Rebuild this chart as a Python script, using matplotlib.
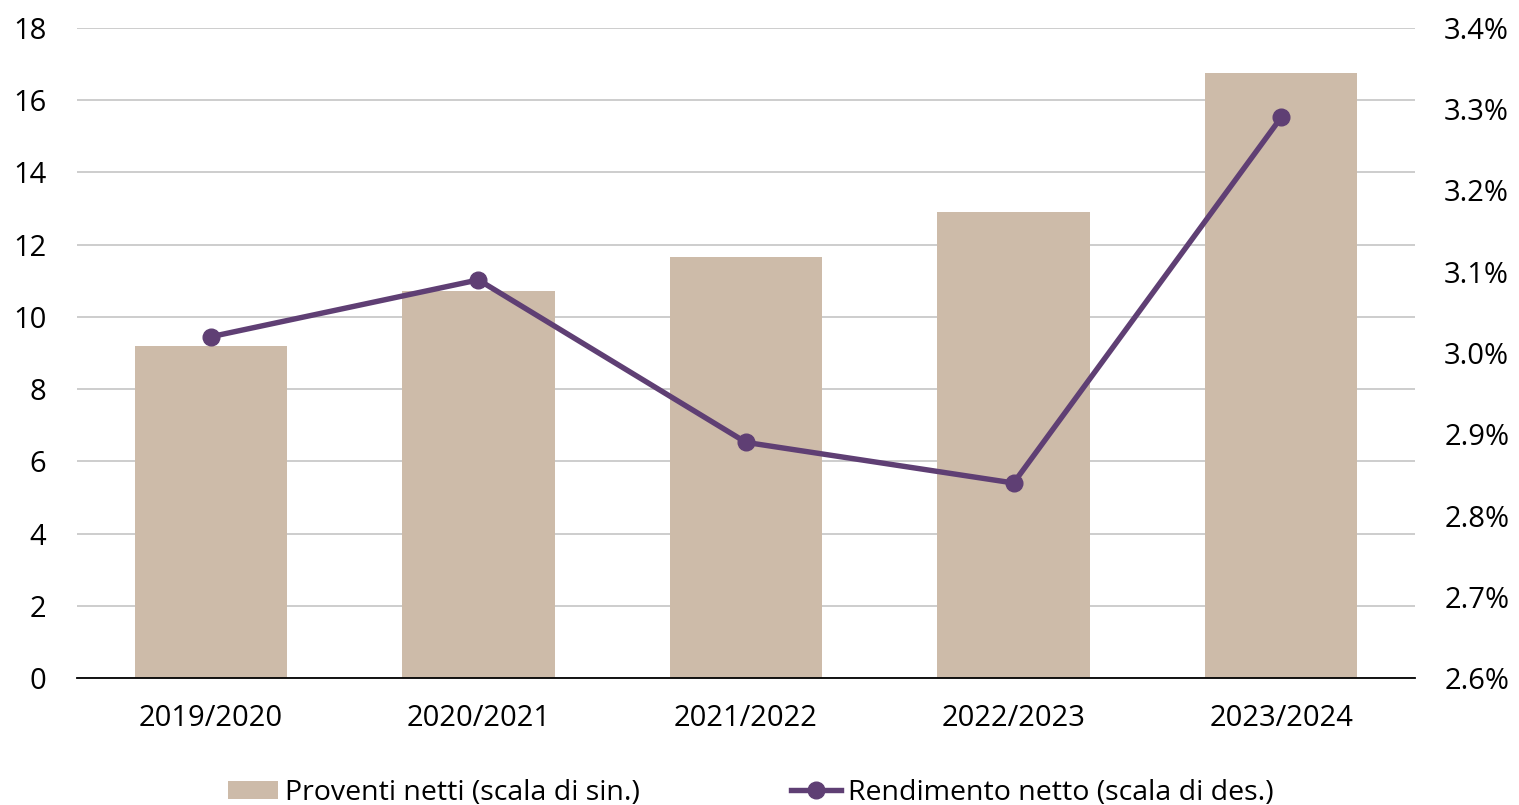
import matplotlib
matplotlib.use("Agg")
import matplotlib.pyplot as plt
from matplotlib.ticker import FuncFormatter
from matplotlib.lines import Line2D
from matplotlib.patches import Patch

plt.rcParams['font.family'] = ['Open Sans', 'DejaVu Sans']

years = ["2019/2020", "2020/2021", "2021/2022", "2022/2023", "2023/2024"]
proventi = [9.2, 10.72, 11.66, 12.9, 16.75]
rendimento = [3.02, 3.09, 2.89, 2.84, 3.29]

left_ticks = [0, 2, 4, 6, 8, 10, 12, 14, 16, 18]
right_ticks = [2.6, 2.7, 2.8, 2.9, 3.0, 3.1, 3.2, 3.3, 3.4]

bar_color = "#CDBBA9"
line_color = "#5F3F74"
grid_color = "#C9C9C9"
fs = 21

fig = plt.figure(figsize=(15.19, 8.05), dpi=100)
ax = fig.add_axes([77 / 1519, 1 - 678 / 805, (1415 - 77) / 1519, (678 - 28) / 805])
x = list(range(len(years)))
ax.bar(x, proventi, width=0.57, color=bar_color, zorder=2)
ax.set_xlim(-0.5, len(years) - 0.5)
ax.set_ylim(0, 18)
ax.set_yticks(left_ticks)
ax.set_xticks(x)
ax.set_xticklabels(years)
ax.yaxis.grid(True, color=grid_color, linewidth=1.3, zorder=0)
ax.set_axisbelow(True)
for s in ["top", "left", "right"]:
    ax.spines[s].set_visible(False)
ax.spines["bottom"].set_color("black")
ax.spines["bottom"].set_linewidth(1.3)
ax.spines["bottom"].set_zorder(3)
ax.tick_params(axis="y", length=0, pad=22, labelsize=fs)
ax.tick_params(axis="x", length=0, pad=19, labelsize=fs)

ax2 = ax.twinx()
ax2.plot(x, rendimento, color=line_color, linewidth=3.9, marker="o",
         markersize=12, zorder=4, solid_capstyle="round")
ax2.set_ylim(2.6, 3.4)
ax2.set_yticks(right_ticks)
ax2.yaxis.set_major_formatter(FuncFormatter(lambda v, p: f"{v:.1f}%"))
for s in ["top", "left", "right", "bottom"]:
    ax2.spines[s].set_visible(False)
ax2.tick_params(axis="y", length=0, pad=21, labelsize=fs)

handles = [
    Patch(facecolor=bar_color, edgecolor="none", label="Proventi netti (scala di sin.)"),
    Line2D([0], [0], color=line_color, linewidth=3.9, marker="o", markersize=12,
           label="Rendimento netto (scala di des.)"),
]
fig.legend(handles=handles, loc="center", bbox_to_anchor=(751 / 1519, 1 - 793 / 805),
           ncol=2, frameon=False, fontsize=20.5, handlelength=1.75, handleheight=0.6,
           handletextpad=0.25, columnspacing=5.32, borderpad=0, borderaxespad=0)

fig.savefig("out.png", dpi=100)
